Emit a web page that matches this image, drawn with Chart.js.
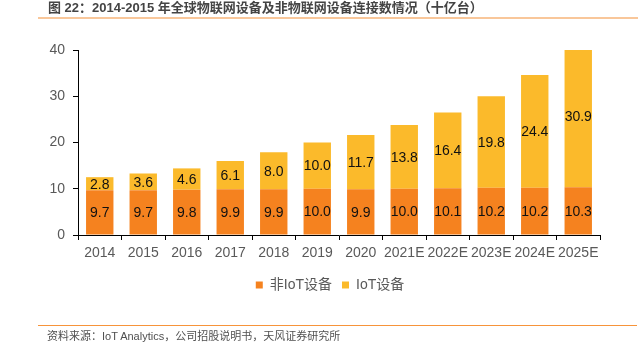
<!DOCTYPE html>
<html>
<head>
<meta charset="utf-8">
<script src="https://cdn.jsdelivr.net/npm/chart.js@4.4.1/dist/chart.umd.min.js"></script>
<style>
  body { margin: 0; background: #fff; font-family: "Liberation Sans", "Noto Sans CJK SC", sans-serif; }
  #wrap { position: relative; width: 641px; height: 347px; overflow: hidden; }
  #title { position: absolute; left: 48px; top: 0px; font-size: 13px; line-height: 16px; font-weight: bold; color: #444; white-space: nowrap;
           font-family: "Liberation Sans", "Noto Sans CJK SC", sans-serif; }
  #topline { position: absolute; left: 38px; top: 17px; width: 600px; height: 2px; background: #f9c79a; }
  #footline { position: absolute; left: 38px; top: 325px; width: 599px; height: 1px; background: #f7943a; }
  #source { position: absolute; left: 47px; top: 327px; font-size: 11px; color: #505050; white-space: nowrap;
            font-family: "Liberation Sans", "Noto Sans CJK SC", sans-serif; }
  #chartBox { position: absolute; left: 0; top: 0; width: 641px; height: 347px; }
</style>
</head>
<body>
<div id="wrap">
  <div id="chartBox"><canvas id="chartjs" width="641" height="347"></canvas></div>
  <div id="title">图 22：2014-2015 年全球物联网设备及非物联网设备连接数情况（十亿台）</div>
  <div id="topline"></div>
  <div id="footline"></div>
  <div id="source">资料来源：IoT Analytics，公司招股说明书，天风证券研究所</div>
</div>
<script>
/*==== data ====*/
const years = ['2014', '2015', '2016', '2017', '2018', '2019', '2020', '2021E', '2022E', '2023E', '2024E', '2025E'];
const nonIotDevices = [9.7, 9.7, 9.8, 9.9, 9.9, 10.0, 9.9, 10.0, 10.1, 10.2, 10.2, 10.3];
const iotDevices = [2.8, 3.6, 4.6, 6.1, 8.0, 10.0, 11.7, 13.8, 16.4, 19.8, 24.4, 30.9];
const yTicks = [0, 10, 20, 30, 40];

const orange = '#f5821f';
const yellow = '#fbba2b';
const tickFont = { family: "Liberation Sans, Arial, sans-serif", size: 14 };

// value labels drawn in the middle of each segment
const segmentLabels = {
    id: 'segmentLabels',
    afterDatasetsDraw(chart) {
        const ctx = chart.ctx;
        ctx.save();
        ctx.fillStyle = '#111';
        ctx.font = '14px "Liberation Sans", Arial, sans-serif';
        ctx.textAlign = 'center';
        ctx.textBaseline = 'middle';
        chart.data.datasets.forEach((ds, i) => {
            chart.getDatasetMeta(i).data.forEach((bar, j) => {
                const y = (bar.y + bar.base) / 2;
                ctx.fillText(ds.data[j].toFixed(1), bar.x, y + 1);
            });
        });
        ctx.restore();
    }
};

// legend in the source sits a bit right of the page centre
const shiftLegend = {
    id: 'shiftLegend',
    afterLayout(chart) {
        chart.legend.left = 60;
    }
};

new Chart(document.querySelector('#chartjs'), {
    type: 'bar',
    data: {
        labels: years,
        datasets: [
            { label: '非IoT设备', data: nonIotDevices, backgroundColor: orange },
            { label: 'IoT设备', data: iotDevices, backgroundColor: yellow }
        ]
    },
    options: {
        responsive: false,
        animation: false,
        devicePixelRatio: 1,
        barPercentage: 0.63,
        categoryPercentage: 1,
        layout: { padding: { top: 50, right: 41, left: 0, bottom: 45 } },
        plugins: {
            tooltip: { enabled: false },
            legend: {
                position: 'bottom',
                labels: {
                    boxWidth: 7, boxHeight: 7, padding: 10,
                    color: '#595959',
                    font: { family: "Liberation Sans, Noto Sans CJK SC, sans-serif", size: 14 }
                }
            }
        },
        scales: {
            x: {
                stacked: true,
                grid: { display: true, drawOnChartArea: false, offset: true, tickLength: 5, color: '#000' },
                border: { color: '#000', width: 1 },
                ticks: { color: '#595959', font: tickFont, padding: 5, maxRotation: 0, autoSkip: false },
                afterFit(s) { s.height = 33; }
            },
            y: {
                stacked: true,
                min: 0, max: 40,
                afterBuildTicks(s) { s.ticks = yTicks.map(v => ({ value: v })); },
                grid: { display: true, drawOnChartArea: false, tickLength: 5, color: '#000' },
                border: { color: '#000', width: 1 },
                ticks: { color: '#595959', font: tickFont, padding: 8 },
                afterFit(s) { s.width = 78; }
            }
        }
    },
    plugins: [segmentLabels, shiftLegend]
});
</script>
</body>
</html>
